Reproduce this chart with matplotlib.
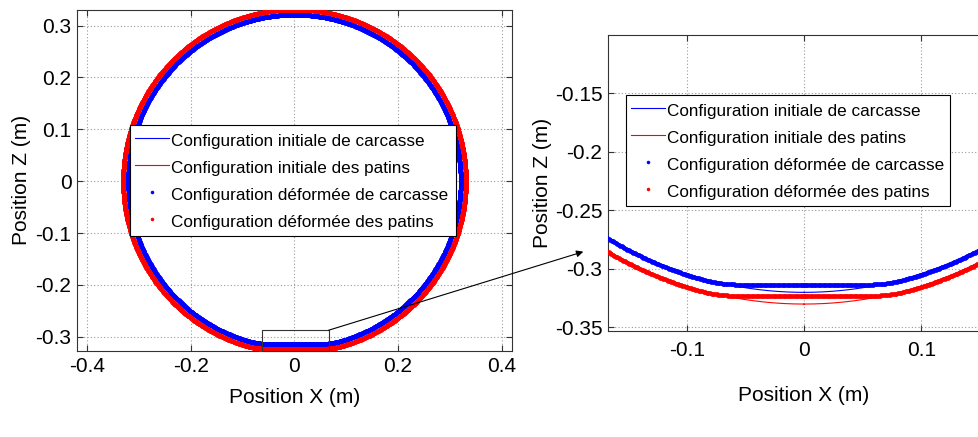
import numpy as np
import matplotlib
matplotlib.use("Agg")
import matplotlib.pyplot as plt
from matplotlib.patches import Rectangle

plt.rcParams['font.family'] = ['Liberation Sans', 'DejaVu Sans']
plt.rcParams['axes.unicode_minus'] = False

# ---------------- data ----------------
series_labels = ["Configuration initiale de carcasse",
                 "Configuration initiale des patins",
                 "Configuration déformée de carcasse",
                 "Configuration déformée des patins"]
series_colors = ["#0000ff", "#ff0000", "#0000ff", "#ff0000"]

# initial (undeformed) radii of carcass and pads [m]
radius_initial = [0.320, 0.330]
# deformed radii (slight bulge) and ground-contact level of the flattened zone [m]
radius_deformed = [0.321, 0.331]
contact_level = [-0.3137, -0.3232]
contact_smoothing = 0.0015  # softness of the transition into the contact zone [m]

n_nodes = 1441  # number of nodes of the discretised rings

left_xticks = [-0.4, -0.2, 0.0, 0.2, 0.4]
left_xticklabels = ["-0.4", "-0.2", "0", "0.2", "0.4"]
left_yticks = [-0.3, -0.2, -0.1, 0.0, 0.1, 0.2, 0.3]
left_yticklabels = ["-0.3", "-0.2", "-0.1", "0", "0.1", "0.2", "0.3"]

right_xticks = [-0.1, 0.0, 0.1]
right_xticklabels = ["-0.1", "0", "0.1"]
right_yticks = [-0.35, -0.3, -0.25, -0.2, -0.15]
right_yticklabels = ["-0.35", "-0.3", "-0.25", "-0.2", "-0.15"]

zoom_box = [-0.062, 0.066, -0.3264, -0.2873]  # x0, x1, z0, z1

# ---------------- geometry ----------------
theta = np.linspace(0, 2 * np.pi, n_nodes)


def ring(r):
    return r * np.sin(theta), -r * np.cos(theta)


def deformed_ring(r, zc, s):
    x, z = ring(r)
    # smooth "max" with the contact plane
    zd = zc + s * np.logaddexp(0.0, (z - zc) / s)
    return x, zd


fig = plt.figure(figsize=(9.79, 4.37), dpi=100)
W, H = 979.0, 437.0

axL = fig.add_axes([77 / W, (H - 350.5) / H, 435 / W, 341 / H])
axR = fig.add_axes([608 / W, (H - 331) / H, 392 / W, 296 / H])

grid_kw = dict(color="#9a9a9a", linestyle=(0, (1, 2)), linewidth=0.8)
saved_handles = {}

for ax in (axL, axR):
    handles = []
    for i in range(2):
        x, z = ring(radius_initial[i])
        h, = ax.plot(x, z, color=series_colors[i], lw=0.8, label=series_labels[i], zorder=3)
        handles.append(h)
    for i in range(2):
        x, z = deformed_ring(radius_deformed[i], contact_level[i], contact_smoothing)
        h, = ax.plot(x, z, linestyle="none", marker="o", markersize=3.4,
                     markeredgewidth=0, color=series_colors[i + 2],
                     label=series_labels[i + 2], zorder=4)
        handles.append(h)
    ax.grid(True, **grid_kw)
    ax.set_axisbelow(True)
    ax.tick_params(direction="in", length=4, width=0.8, top=True, right=True,
                   labelsize=15, colors="#333333", labelcolor="black")
    for s in ax.spines.values():
        s.set_color("#333333")
        s.set_linewidth(0.8)
    ax.set_xlabel("Position X (m)", fontsize=15)
    ax.set_ylabel("Position Z (m)", fontsize=15)
    saved_handles[ax] = handles

axL.set_xlim(-0.42, 0.42)
axL.set_ylim(-0.3264, 0.331)
axL.set_xticks(left_xticks)
axL.set_xticklabels(left_xticklabels)
axL.set_yticks(left_yticks)
axL.set_yticklabels(left_yticklabels)
axL.tick_params(axis="x", pad=5)
axL.tick_params(axis="y", pad=4)
axL.xaxis.set_label_coords(0.5, -0.109)
axL.yaxis.set_label_coords(-0.106, 0.5)

axR.set_xlim(-0.1672, 0.1672)
axR.set_ylim(-0.353, -0.1003)
axR.set_xticks(right_xticks)
axR.set_xticklabels(right_xticklabels)
axR.set_yticks(right_yticks)
axR.set_yticklabels(right_yticklabels)
axR.tick_params(axis="x", pad=7)
axR.tick_params(axis="y", pad=4)
axR.xaxis.set_label_coords(0.5, -0.185)
axR.yaxis.set_label_coords(-0.143, 0.5)

leg_kw = dict(loc="upper left", fontsize=12.3, frameon=True, fancybox=False,
              framealpha=1, edgecolor="black", borderpad=0.3,
              handlelength=2.0, handletextpad=0.12, labelspacing=0.43,
              handleheight=1.4, borderaxespad=0, numpoints=1,
              markerscale=0.75, mode="expand")

legL = axL.legend(handles=saved_handles[axL],
                  bbox_to_anchor=(130 / W, 1 - 125 / H, 326 / W, 0),
                  bbox_transform=fig.transFigure, **leg_kw)
legL.get_frame().set_linewidth(0.8)
legL.set_zorder(10)

legR = axR.legend(handles=saved_handles[axR],
                  bbox_to_anchor=(626 / W, 1 - 95 / H, 324 / W, 0),
                  bbox_transform=fig.transFigure, **leg_kw)
legR.get_frame().set_linewidth(0.8)
legR.set_zorder(10)

# zoom rectangle and arrow
x0, x1, z0, z1 = zoom_box
axL.add_patch(Rectangle((x0, z0), x1 - x0, z1 - z0, fill=False,
                        edgecolor="#333333", lw=0.8, zorder=6, clip_on=False))
axL.annotate("", xy=(583.3 / W, 1 - 251.7 / H), xycoords="figure fraction",
             xytext=(x1, z1), textcoords="data",
             arrowprops=dict(arrowstyle="-|>", color="black", lw=0.8,
                             mutation_scale=10, shrinkA=0, shrinkB=0),
             annotation_clip=False, zorder=7)

fig.savefig("out.png", dpi=100)
